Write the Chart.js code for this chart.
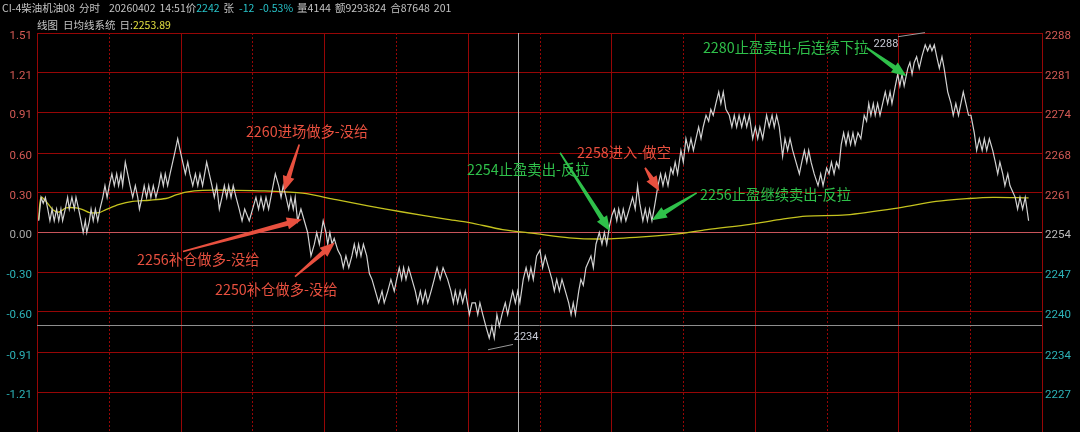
<!DOCTYPE html>
<html><head><meta charset="utf-8">
<script src="https://cdn.jsdelivr.net/npm/chart.js@4.4.1/dist/chart.umd.min.js"></script>
<style>html,body{margin:0;padding:0;background:#000;overflow:hidden}#wrap{width:1080px;height:432px;position:relative}</style>
</head><body><div id="wrap"><canvas id="c" width="1080" height="432"></canvas></div>
<script>
// ---------- data ----------
const basePrice = 2254;            // previous settlement (0.00%)
const pctLimit = 1.51;             // axis half-range in %
const pctTicks = [1.51,1.21,0.91,0.60,0.30,0.00,-0.30,-0.60,-0.91,-1.21];
const pctTickLabels = ['1.51','1.21','0.91','0.60','0.30','0.00','-0.30','-0.60','-0.91','-1.21'];
const priceTickLabels = ['2288','2281','2274','2268','2261','2254','2247','2240','2234','2227'];
const sessionMinutes = 420;
const gridMinutes = [30,60,90,120,150,180,210,240,270,300,330,360,390];
// [minute, price] vertices of the last-price line
const priceTrace = [[0.7,2256],[1.7,2260],[2.6,2259],[3.5,2260],[4.5,2258],[5.4,2256],[6.3,2258],[7.2,2256],[8.2,2258],[9.1,2256],[10.0,2258],[10.7,2256],[11.8,2258],[12.8,2260],[13.5,2258],[14.6,2260],[15.6,2258],[16.3,2260],[17.4,2258],[18.4,2256],[19.3,2254],[20.2,2256],[20.8,2254],[21.9,2256],[22.6,2258],[23.5,2256],[24.4,2258],[25.4,2256],[26.3,2258],[27.5,2260],[28.4,2262],[29.3,2260],[30.2,2262],[31.3,2264],[32.3,2262],[33.3,2264],[34.1,2262],[35.1,2264],[35.8,2262],[36.9,2266],[37.9,2264],[38.9,2262],[40.0,2260],[41.1,2262],[42.1,2260],[42.8,2258],[43.9,2260],[44.8,2262],[45.8,2260],[46.7,2262],[47.6,2260],[48.6,2262],[49.7,2260],[50.9,2262],[51.8,2264],[52.8,2262],[53.6,2264],[54.6,2262],[55.6,2264],[56.7,2266],[57.8,2268],[58.8,2270],[59.8,2268],[60.9,2266],[62.0,2264],[63.0,2266],[63.9,2264],[65.1,2262],[66.2,2264],[67.2,2262],[68.1,2264],[69.2,2262],[70.9,2266],[72.0,2264],[73.1,2262],[74.1,2260],[75.1,2262],[76.2,2258],[77.3,2260],[78.3,2262],[79.3,2260],[80.1,2262],[81.1,2260],[82.0,2262],[83.2,2260],[84.5,2258],[85.7,2256],[86.8,2258],[88.7,2256],[90.1,2258],[91.5,2260],[92.6,2258],[93.6,2260],[94.7,2258],[95.7,2260],[96.8,2258],[99.6,2264],[101.0,2262],[102.0,2260],[102.9,2262],[104.1,2260],[105.2,2258],[106.1,2260],[107.1,2258],[107.9,2260],[108.9,2256],[110.3,2258],[111.7,2256],[113.1,2254],[114.5,2250],[115.9,2252],[116.9,2254],[118.0,2252],[119.6,2256],[120.8,2254],[121.5,2252],[122.4,2254],[123.3,2252],[124.2,2253],[125.7,2251],[127.0,2250],[128.0,2248],[129.1,2250],[130.3,2248],[131.6,2250],[132.6,2252],[133.6,2250],[134.4,2252],[135.4,2250],[136.4,2252],[137.8,2250],[138.9,2247],[140.0,2246],[141.4,2244],[142.8,2242],[144.2,2244],[145.1,2242],[146.6,2244],[147.9,2246],[149.3,2244],[150.3,2246],[151.4,2248],[152.4,2246],[153.2,2248],[154.2,2246],[155.3,2248],[156.7,2246],[158.1,2244],[159.1,2242],[160.2,2244],[161.2,2242],[162.3,2244],[163.3,2242],[164.7,2244],[166.0,2246],[167.2,2248],[168.5,2246],[169.7,2248],[171.6,2246],[173.0,2244],[174.0,2242],[174.8,2244],[175.8,2242],[176.8,2244],[177.9,2242],[179.0,2244],[180.7,2240],[181.8,2242],[183.2,2242],[184.2,2240],[185.1,2242],[186.3,2240],[187.6,2238],[189.0,2236],[190.1,2238],[191.1,2236],[192.2,2240],[193.2,2238],[194.3,2240],[195.7,2242],[196.7,2240],[197.7,2242],[198.8,2244],[199.9,2242],[200.9,2244],[201.8,2242],[203.2,2246],[204.4,2248],[205.5,2246],[206.4,2248],[207.4,2246],[208.8,2250],[210.2,2251],[211.3,2248],[212.4,2250],[213.8,2248],[215.2,2246],[216.2,2244],[217.2,2246],[218.3,2244],[219.4,2246],[220.8,2244],[222.2,2242],[223.2,2240],[224.1,2242],[225.0,2240],[226.4,2244],[227.3,2246],[228.3,2245],[229.4,2248],[231.5,2250],[232.5,2248],[233.6,2252],[235.0,2254],[236.1,2252],[237.1,2254],[238.1,2252],[239.2,2255],[240.3,2257],[241.3,2258],[242.3,2256],[243.1,2258],[244.1,2256],[245.0,2258],[246.1,2256],[247.5,2258],[248.9,2260],[250.0,2258],[251.0,2262],[251.9,2259],[253.2,2256],[254.2,2258],[255.1,2256],[256.0,2258],[257.0,2256],[258.3,2259],[259.5,2262],[260.6,2264],[261.6,2262],[262.6,2264],[263.7,2262],[264.9,2265],[265.8,2264],[266.7,2266],[267.7,2264],[269.1,2268],[270.1,2266],[271.2,2270],[272.3,2268],[273.3,2270],[274.3,2268],[275.4,2270],[276.5,2272],[277.5,2270],[278.4,2272],[279.6,2274],[280.7,2273],[281.6,2275],[282.6,2274],[283.7,2276],[284.9,2278],[285.8,2276],[286.8,2278],[287.9,2275],[289.3,2274],[290.4,2272],[291.4,2274],[292.4,2272],[293.4,2274],[294.5,2272],[295.6,2274],[296.6,2272],[297.7,2274],[299.1,2270],[300.2,2272],[301.2,2270],[302.1,2272],[303.3,2270],[304.9,2274],[306.0,2272],[307.2,2274],[308.1,2272],[309.1,2274],[310.2,2272],[311.6,2267],[312.6,2270],[313.7,2268],[314.7,2270],[315.8,2268],[317.2,2266],[318.6,2264],[319.6,2266],[320.7,2268],[321.7,2266],[322.5,2268],[323.5,2266],[324.8,2264],[326.4,2262],[327.5,2264],[328.5,2262],[330.0,2265],[331.0,2264],[332.0,2266],[333.1,2264],[334.1,2266],[335.1,2265],[336.1,2269],[337.1,2271],[338.1,2269],[339.0,2271],[340.0,2269],[341.0,2271],[341.9,2269],[343.1,2271],[344.3,2270],[345.7,2274],[346.7,2273],[347.6,2276],[348.5,2274],[349.5,2276],[350.3,2274],[351.3,2276],[352.3,2274],[353.4,2276],[354.5,2278],[355.5,2276],[356.5,2278],[357.3,2276],[358.7,2279],[359.7,2281],[360.6,2279],[361.5,2281],[362.4,2279],[363.9,2282],[364.8,2283],[365.7,2281],[366.6,2283],[367.6,2284],[368.7,2282],[369.8,2284],[371.2,2286],[372.2,2285],[373.2,2286],[374.0,2285],[375.0,2286],[376.0,2284],[377.1,2282],[378.2,2284],[379.1,2282],[380.6,2278],[382.0,2276],[382.9,2274],[384.0,2276],[385.1,2274],[386.1,2276],[387.1,2278],[388.2,2276],[389.3,2274],[390.3,2274],[391.7,2271],[392.7,2268],[393.8,2270],[395.0,2268],[395.9,2270],[396.9,2268],[398.0,2270],[399.4,2268],[400.5,2266],[401.5,2264],[402.4,2266],[403.6,2264],[404.5,2262],[405.7,2264],[406.6,2262],[407.7,2261],[408.8,2260],[409.8,2258],[410.8,2260],[411.9,2258],[413.0,2260],[414.4,2256]];
// [minute, price] vertices of the daily average line
const avgTrace = [[0.7,2256.2],[1.7,2260.0],[3.8,2259.3],[6.6,2257.9],[9.3,2257.5],[12.1,2258.2],[16.3,2258.2],[19.1,2257.9],[21.9,2257.4],[26.0,2257.4],[28.8,2257.9],[34.4,2258.8],[40.0,2259.3],[46.9,2259.5],[53.9,2259.8],[58.1,2260.4],[62.3,2260.9],[69.2,2261.2],[83.2,2261.2],[95.0,2261.1],[111.0,2260.7],[125.0,2259.6],[138.9,2258.5],[152.8,2257.5],[170.9,2256.3],[180.7,2255.7],[194.6,2254.5],[208.5,2253.8],[222.4,2253.1],[236.4,2252.9],[254.5,2253.3],[268.7,2253.8],[280.0,2254.5],[298.0,2255.4],[310.2,2256.2],[321.6,2256.8],[338.1,2257.0],[360.2,2258.2],[375.7,2259.3],[389.5,2259.8],[399.5,2260.0],[414.4,2259.9]];
const crossMinute = 201;
const crossPct = -0.70;
const dayHigh = {label:'2288', minute:354.8, price:2286.1, line:[[359.8,2287.4],[371.1,2288.1]]};
const dayLow  = {label:'2234', minute:204.4, price:2236.1, line:[[188.5,2234.0],[198.9,2234.9]]};
const notes = [
  {text:'2260进场做多-没给',   color:'red',   at:[87.3,2271.15], from:[109.6,2269.0], to:[103.2,2261.05]},
  {text:'2256补仓做多-没给',   color:'red',   at:[41.8,2249.31], from:[61.0,2250.76], to:[110.7,2256.22]},
  {text:'2250补仓做多-没给',   color:'red',   at:[74.4,2244.19], from:[107.8,2246.49], to:[124.5,2252.29]},
  {text:'2254止盈卖出-反拉',   color:'green', at:[179.7,2264.75], from:[218.6,2267.6], to:[239.5,2254.22]},
  {text:'2258进入-做空',       color:'red',   at:[225.7,2267.57], from:[254.1,2265.04], to:[260.1,2261.05]},
  {text:'2256止盈继续卖出-反拉', color:'green', at:[277.1,2260.48], from:[275.7,2260.77], to:[256.9,2256.10]},
  {text:'2280止盈卖出-后连续下拉', color:'green', at:[278.3,2285.49], from:[346.7,2285.52], to:[363.4,2280.67]}
];
// header text pieces: [text, colour key, gap after]
const headerLine1 = [
  ['CI-4柴油机油08','g',4],['分时','g',9],['20260402','g',4],['14:51价','g',0],['2242','c',4],['张','g',5],['-12','c',5],['-0.53%','c',4],['量4144','g',4],['额9293824','g',4],['合87648','g',4],['201','g',0]
];
const headerLine2 = [['线图','g',5],['日均线系统','g',4],['日:','g',0],['2253.89','y',0]];

// ---------- styles ----------
const COL = {red:'#e8503f', green:'#2fc04a', grid:'#960606', zero:'#c8545a', white:'#d2d2d2', yellow:'#c4c21e',
  posLbl:'#d45a55', zeroLbl:'#a8a8a8', negLbl:'#2db3b8', g:'#c4c4c4', c:'#27c3c9', y:'#e2e040'};
const CJK = '"Noto Sans CJK SC","Noto Sans",sans-serif';

function drawArrow(ctx,x1,y1,x2,y2,color){
  const dx=x2-x1, dy=y2-y1, len=Math.hypot(dx,dy); const ux=dx/len, uy=dy/len, nx=-uy, ny=ux;
  const headLen=15, headW=6, tailW=0.8, neckW=2.4;
  const bx=x2-ux*headLen, by=y2-uy*headLen;
  ctx.fillStyle=color; ctx.beginPath();
  ctx.moveTo(x1+nx*tailW,y1+ny*tailW);
  ctx.lineTo(bx+nx*neckW,by+ny*neckW);
  ctx.lineTo(bx+nx*headW,by+ny*headW);
  ctx.lineTo(x2,y2);
  ctx.lineTo(bx-nx*headW,by-ny*headW);
  ctx.lineTo(bx-nx*neckW,by-ny*neckW);
  ctx.lineTo(x1-nx*tailW,y1-ny*tailW);
  ctx.closePath(); ctx.fill();
}

const bgPlugin = {id:'bg', beforeDraw(c){const x=c.ctx; x.save(); x.fillStyle='#000'; x.fillRect(0,0,c.width,c.height); x.restore();}};
const vgridPlugin = {id:'vgrid', beforeDatasetsDraw(c){
  const {ctx,chartArea:a,scales} = c; const xs=scales.x; ctx.save(); ctx.lineWidth=1; ctx.strokeStyle=COL.grid;
  gridMinutes.forEach(m=>{ const px=Math.round(xs.getPixelForValue(m))+0.5; ctx.setLineDash((m/30)%2===1?[2,2]:[]);
    ctx.beginPath(); ctx.moveTo(px,a.top); ctx.lineTo(px,a.bottom); ctx.stroke(); });
  ctx.setLineDash([]);
  const cx=Math.round(xs.getPixelForValue(crossMinute))+0.5; const cy=Math.round(scales.pct.getPixelForValue(crossPct))+0.5;
  ctx.strokeStyle='#8e8e8e'; ctx.beginPath(); ctx.moveTo(a.left,cy); ctx.lineTo(a.right,cy); ctx.stroke();
  ctx.strokeStyle='#b4b4b4'; ctx.beginPath(); ctx.moveTo(cx,a.top); ctx.lineTo(cx,a.bottom); ctx.stroke();
  ctx.restore();
}};
const notePlugin = {id:'notes', afterDatasetsDraw(c){
  const {ctx,scales} = c; const xs=scales.x, ys=scales.price; const P=(pt)=>[xs.getPixelForValue(pt[0]), ys.getPixelForValue(pt[1])];
  ctx.save();
  notes.forEach(n=>{ const col=COL[n.color]; const [fx,fy]=P(n.from), [tx,ty]=P(n.to); drawArrow(ctx,fx,fy,tx,ty,col);
    const [ax,ay]=P(n.at); ctx.font='14.3px '+CJK; ctx.fillStyle=col; ctx.textBaseline='middle'; ctx.textAlign='left'; ctx.fillText(n.text,ax,ay); });
  [dayHigh,dayLow].forEach(d=>{ const [lx1,ly1]=P(d.line[0]), [lx2,ly2]=P(d.line[1]); ctx.strokeStyle='#9a9a9a'; ctx.lineWidth=1;
    ctx.beginPath(); ctx.moveTo(lx1,ly1); ctx.lineTo(lx2,ly2); ctx.stroke();
    const [tx,ty]=P([d.minute,d.price]); ctx.font='11px Roboto,sans-serif'; ctx.fillStyle='#c8cbd6'; ctx.textAlign='center'; ctx.textBaseline='middle'; ctx.fillText(d.label,tx,ty); });
  ctx.restore();
}};
const headerPlugin = {id:'header', afterDraw(c){
  const ctx=c.ctx; ctx.save(); ctx.textBaseline='middle'; ctx.textAlign='left';
  ctx.font='10.5px '+CJK; let x=2;
  headerLine1.forEach(s=>{ ctx.fillStyle=COL[s[1]]; ctx.fillText(s[0],x,8.5); x+=ctx.measureText(s[0]).width+s[2]; });
  ctx.font='10.5px '+CJK; x=37;
  headerLine2.forEach(s=>{ ctx.fillStyle=COL[s[1]]; ctx.fillText(s[0],x,25); x+=ctx.measureText(s[0]).width+s[2]; });
  ctx.restore();
}};
function noPad(ax){ ax.paddingTop=0; ax.paddingBottom=0; }

const pctAxis = {type:'linear', position:'left', min:-pctLimit, max:pctLimit,
  afterBuildTicks(ax){ ax.ticks = pctTicks.map(v=>({value:v})); },
  afterFit(ax){ ax.width=37; noPad(ax); },
  grid:{drawTicks:false, color:(ctx)=> (ctx.tick && ctx.tick.value===0)?COL.zero:COL.grid, lineWidth:1},
  border:{display:true, color:COL.grid, width:1},
  ticks:{autoSkip:false, padding:5, labelOffset:3, font:{family:'Roboto', size:11.5},
    callback:(v,i)=>pctTickLabels[i],
    color:(ctx)=>{const v=ctx.tick.value; return v>0?COL.posLbl:(v<0?COL.negLbl:COL.zeroLbl);} }
};
const priceAxis = {type:'linear', position:'right', min:basePrice*(1-pctLimit/100), max:basePrice*(1+pctLimit/100),
  afterBuildTicks(ax){ ax.ticks = pctTicks.map(p=>({value:basePrice*(1+p/100)})); },
  afterFit(ax){ ax.width=38; noPad(ax); },
  grid:{drawOnChartArea:false, drawTicks:false},
  border:{display:true, color:COL.grid, width:1},
  ticks:{autoSkip:false, padding:3, labelOffset:3, font:{family:'Roboto', size:11.5},
    callback:(v,i)=>priceTickLabels[i],
    color:(ctx)=>{const i=ctx.index; return i<5?COL.posLbl:(i>5?COL.negLbl:'#bdbdbd');} }
};

new Chart(document.getElementById('c'), {
  type:'line',
  data:{ datasets:[
    {label:'价格', data:priceTrace.map(p=>({x:p[0],y:p[1]})), yAxisID:'price', borderColor:COL.white, borderWidth:1.2, pointRadius:0, tension:0},
    {label:'均价', data:avgTrace.map(p=>({x:p[0],y:p[1]})), yAxisID:'price', borderColor:COL.yellow, borderWidth:1.3, pointRadius:0, tension:0.3}
  ]},
  options:{ responsive:false, animation:false, devicePixelRatio:1,
    layout:{padding:{top:33,left:0,right:0,bottom:0}},
    plugins:{legend:{display:false}, tooltip:{enabled:false}},
    scales:{ x:{type:'linear', min:0, max:sessionMinutes, display:false}, pct:pctAxis, price:priceAxis }
  },
  plugins:[bgPlugin, vgridPlugin, notePlugin, headerPlugin]
});
</script></body></html>
